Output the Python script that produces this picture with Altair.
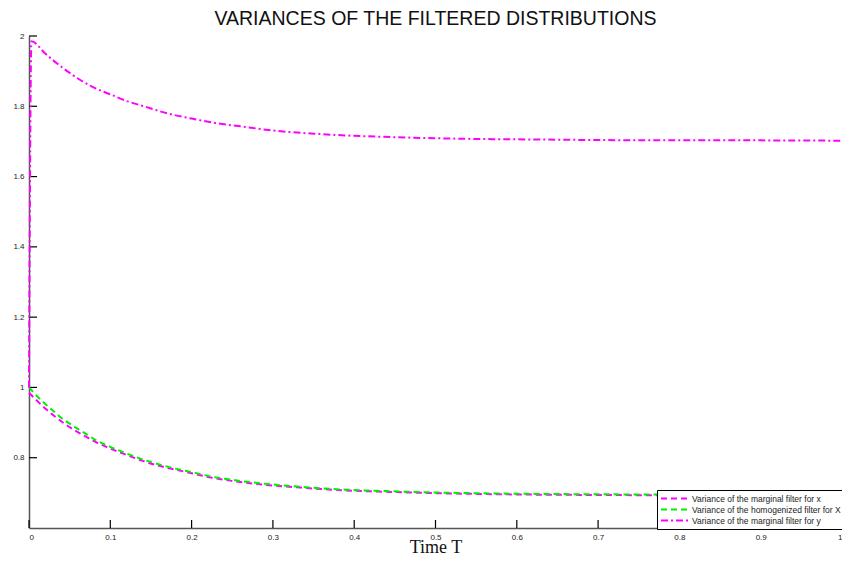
import altair as alt
import pandas as pd

# ---- data ----
t_lower = [0, 0.01, 0.02, 0.03, 0.04, 0.05, 0.06, 0.07, 0.08, 0.1, 0.12, 0.14, 0.16,
           0.18, 0.2, 0.225, 0.25, 0.29, 0.34, 0.39, 0.44, 0.5, 0.55, 0.62, 0.7, 0.8, 0.9, 1.0]
var_x = [0.985, 0.962, 0.940, 0.921, 0.903, 0.887, 0.873, 0.860, 0.847, 0.826, 0.808, 0.791,
         0.777, 0.766, 0.756, 0.743, 0.734, 0.723, 0.714, 0.707, 0.703, 0.699, 0.697, 0.695,
         0.694, 0.693, 0.693, 0.692]
var_X = [1.0, 0.975, 0.953, 0.933, 0.913, 0.897, 0.882, 0.868, 0.853, 0.831, 0.812, 0.795,
         0.781, 0.769, 0.759, 0.746, 0.737, 0.726, 0.716, 0.709, 0.705, 0.701, 0.699, 0.697,
         0.696, 0.695, 0.695, 0.694]
t_upper = [0, 0.003, 0.02, 0.035, 0.05, 0.065, 0.08, 0.1, 0.12, 0.14, 0.17, 0.2, 0.23, 0.26,
           0.3, 0.35, 0.4, 0.45, 0.5, 0.55, 0.6, 0.7, 0.8, 0.9, 1.0]
var_y = [1.0, 1.985, 1.950, 1.921, 1.895, 1.872, 1.853, 1.834, 1.815, 1.801, 1.780, 1.765,
         1.752, 1.743, 1.731, 1.722, 1.716, 1.712, 1.709, 1.707, 1.706, 1.704, 1.703, 1.703, 1.702]

series_names = ["Variance of the marginal filter for x",
                "Variance of the homogenized filter for X",
                "Variance of the marginal filter for y"]
series_colors = ["#ff00ff", "#00ee00", "#ff00ff"]
series_dash = [[6, 4], [6, 4], [7, 3, 2, 3]]

x_ticks = [0, 0.1, 0.2, 0.3, 0.4, 0.5, 0.6, 0.7, 0.8, 0.9, 1.0]
y_ticks = [0.8, 1.0, 1.2, 1.4, 1.6, 1.8, 2.0]

rows = []
for t, v in zip(t_lower, var_x):
    rows.append({"t": t, "v": v, "s": series_names[0], "o": 0})
for t, v in zip(t_lower, var_X):
    rows.append({"t": t, "v": v, "s": series_names[1], "o": 1})
for t, v in zip(t_upper, var_y):
    rows.append({"t": t, "v": v, "s": series_names[2], "o": 2})
df = pd.DataFrame(rows)

W, H = 813, 492

xscale = alt.Scale(domain=[0, 1], nice=False, zero=False)
yscale = alt.Scale(domain=[0.6, 2], nice=False, zero=False)

lines = alt.Chart(df).mark_line(strokeWidth=2, interpolate="monotone").encode(
    x=alt.X("t:Q", scale=xscale, title="Time T",
            axis=alt.Axis(values=x_ticks, format="~g", ticks=False, grid=False,
                          labelFontSize=8, labelColor="#222", labelFont="Liberation Sans",
                          labelPadding=5, domainColor="#555", domainWidth=1.5,
                          titleFont="Liberation Serif", titleFontSize=18,
                          titleFontWeight="normal", titleColor="#111",
                          titleBaseline="alphabetic", titleY=24)),
    y=alt.Y("v:Q", scale=yscale, title=None,
            axis=alt.Axis(values=y_ticks, format="~g", ticks=False, grid=False,
                          labelFontSize=8, labelColor="#222", labelFont="Liberation Sans",
                          labelPadding=5, domainColor="#555", domainWidth=1.5)),
    color=alt.Color("s:N", sort=series_names,
                    scale=alt.Scale(domain=series_names, range=series_colors),
                    legend=alt.Legend(title=None, orient="none", legendX=628, legendY=454,
                                      fillColor="white", strokeColor="black",
                                      padding=3, labelFontSize=8.5, labelFont="Liberation Sans",
                                      labelColor="#222", symbolType="stroke",
                                      symbolSize=729, symbolStrokeWidth=2, clipHeight=11,
                                      rowPadding=0, labelLimit=400, labelOffset=3)),
    strokeDash=alt.StrokeDash("s:N", sort=series_names,
                              scale=alt.Scale(domain=series_names, range=series_dash),
                              legend=alt.Legend(title=None)),
    order=alt.Order("o:Q"),
)

xt = alt.Chart(pd.DataFrame({"t": x_ticks})).mark_rule(color="black", strokeWidth=1.2).encode(
    x=alt.X("t:Q", scale=xscale),
    y=alt.value(H), y2=alt.value(H - 8),
)
yt = alt.Chart(pd.DataFrame({"v": y_ticks})).mark_rule(color="black", strokeWidth=1.2).encode(
    y=alt.Y("v:Q", scale=yscale),
    x=alt.value(0), x2=alt.value(8),
)

chart = alt.layer(xt, yt, lines).properties(
    width=W, height=H,
    title=alt.TitleParams("VARIANCES OF THE FILTERED DISTRIBUTIONS", font="Liberation Sans",
                          fontSize=19.5, fontWeight="normal", color="#111", offset=3,
                          anchor="middle"),
    autosize=alt.AutoSizeParams(type="none"),
    padding={"left": 21, "top": 28, "right": 0, "bottom": 26},
).configure_view(stroke=None)

chart.save("out.html", embed_options={"renderer": "svg", "actions": False})
